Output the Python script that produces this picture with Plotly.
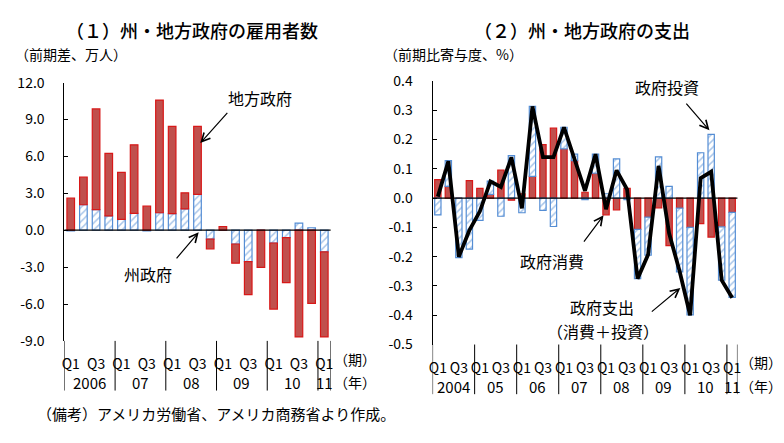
import plotly.graph_objects as go

# ---------------- data ----------------
# (1) State & local government employment, q/q change, 10k persons, 2006Q1-2011Q1
years_l = ["2006", "07", "08", "09", "10", "11"]
year_counts_l = [4, 4, 4, 4, 4, 1]
state_l = [-0.05, 2.07, 1.68, 1.16, 0.88, 1.37, -0.05, 1.42, 1.34, 1.73, 2.92,
           -0.73, 0.0, -1.12, -2.55, 0.0, -1.04, -0.60, 0.58, 0.20, -1.77]
local_l = [2.60, 2.24, 8.18, 5.08, 3.82, 5.57, 1.95, 9.16, 7.10, 1.31, 5.52,
           -0.78, 0.30, -1.56, -2.69, -3.02, -5.37, -3.67, -8.68, -5.95, -6.91]

# (2) State & local government expenditure, contribution to q/q growth (%), 2004Q1-2011Q1
years_r = ["2004", "05", "06", "07", "08", "09", "10", "11"]
year_counts_r = [4, 4, 4, 4, 4, 4, 4, 1]
consumption_r = [0.063, 0.040, 0.000, 0.060, 0.033, 0.013, 0.096, -0.007, 0.015, 0.074,
                 0.183, 0.239, 0.168, 0.128, 0.020, 0.085, -0.057, -0.040, 0.033, -0.107,
                 -0.065, -0.033, -0.162, -0.034, -0.100, -0.087, -0.133, -0.098, -0.049]
investment_r = [-0.057, 0.088, -0.203, -0.174, -0.076, 0.045, -0.062, 0.145, -0.050, 0.239,
                -0.042, -0.097, 0.074, 0.022, -0.005, 0.065, 0.015, 0.134, -0.005, -0.168,
                -0.130, 0.141, 0.040, -0.218, -0.299, 0.155, 0.218, -0.182, -0.290]
total_r = [0.005, 0.126, -0.200, -0.110, -0.045, 0.057, 0.038, 0.139, -0.035, 0.313,
           0.140, 0.140, 0.242, 0.135, 0.025, 0.150, -0.038, 0.095, 0.030, -0.275,
           -0.193, 0.110, -0.120, -0.250, -0.400, 0.068, 0.090, -0.280, -0.340]

quarter_names = ["Q1", "Q2", "Q3", "Q4"]
shown_quarters = ["Q1", "Q3"]

yticks_l = [-9, -6, -3, 0, 3, 6, 9, 12]
yticktext_l = ["-9.0", "-6.0", "-3.0", "0.0", "3.0", "6.0", "9.0", "12.0"]
yticks_r = [-0.5, -0.4, -0.3, -0.2, -0.1, 0.0, 0.1, 0.2, 0.3, 0.4]
yticktext_r = ["-0.5", "-0.4", "-0.3", "-0.2", "-0.1", "0.0", "0.1", "0.2", "0.3", "0.4"]

# ---------------- helpers ----------------
W, H = 784, 443
def px(x): return x / W
def py(y): return 1 - y / H

FONT = "Noto Sans CJK JP"
RED_FILL = "#C0504D"
RED_LINE = "#D81818"
BLUE = "#548DD4"

def quarters(counts):
    return [quarter_names[k] for c in counts for k in range(c)]

q_l = quarters(year_counts_l)
q_r = quarters(year_counts_r)
idx_l = list(range(len(q_l)))
idx_r = list(range(len(q_r)))

fig = go.Figure()

hatch = dict(color="white", line=dict(color=BLUE, width=1.2),
             pattern=dict(shape="/", fgcolor=BLUE, bgcolor="white", size=5, solidity=0.3, fillmode="overlay"))
solid = dict(color=RED_FILL, line=dict(color=RED_LINE, width=1.2))

fig.add_bar(x=idx_l, y=state_l, marker=hatch, xaxis="x", yaxis="y", name="州政府")
fig.add_bar(x=idx_l, y=local_l, marker=solid, xaxis="x", yaxis="y", name="地方政府")
fig.add_bar(x=idx_r, y=consumption_r, marker=solid, xaxis="x2", yaxis="y2", name="政府消費")
fig.add_bar(x=idx_r, y=investment_r, marker=hatch, xaxis="x2", yaxis="y2", name="政府投資")
fig.add_scatter(x=idx_r, y=total_r, mode="lines", line=dict(color="black", width=3.8),
                xaxis="x2", yaxis="y2", name="政府支出")

tickfont = dict(family=FONT, size=14, color="black")
qfont = dict(family="Liberation Sans Narrow, " + FONT, size=14, color="black")

def xaxis(dom, n, qs, anchor):
    tv = [i for i in range(n) if qs[i] in shown_quarters]
    return dict(domain=dom, range=[-0.5, n - 0.5], tickvals=tv, ticktext=[qs[i] for i in tv],
                tickangle=0, showline=False, ticks="", showgrid=False, zeroline=False,
                tickfont=qfont, ticklabelstandoff=13, anchor=anchor)

def yaxis(dom, rng, tv, tt, anchor):
    return dict(domain=dom, range=rng, tickvals=tv, ticktext=tt, showline=True, linecolor="black",
                linewidth=1, ticks="inside", ticklen=4, tickcolor="black", showgrid=False,
                zeroline=False, tickfont=tickfont, ticklabelstandoff=16, anchor=anchor)

top_l, bot_l = 75, 345.5
top_r, bot_r = 73.3, 349.3

fig.update_layout(
    width=W, height=H, margin=dict(l=0, r=0, t=0, b=0),
    paper_bgcolor="white", plot_bgcolor="white", showlegend=False,
    barmode="relative", bargap=0.4,
    font=dict(family=FONT, size=14, color="black"),
    xaxis=xaxis([px(61), px(330)], len(q_l), q_l, "y"),
    yaxis=yaxis([py(bot_l), py(top_l)], [-9, 12], yticks_l, yticktext_l, "x"),
    xaxis2=xaxis([px(433), px(741)], len(q_r), q_r, "y2"),
    yaxis2=yaxis([py(bot_r), py(top_r)], [-0.5, 0.4], yticks_r, yticktext_r, "x2"),
)

shapes = []
annotations = []

# zero lines (category axes crossing at 0)
for xr, yr in (("x", "y"), ("x2", "y2")):
    shapes.append(dict(type="line", xref=xr + " domain", yref=yr, x0=0, x1=1, y0=0, y1=0,
                       line=dict(color="black", width=1.2), layer="above"))

# year group dividers + labels
def groups(xr, years, counts, ybot, ylab):
    start = 0
    bounds = [-0.5]
    for yl, c in zip(years, counts):
        annotations.append(dict(xref=xr, yref="paper", x=start + (c - 1) / 2, y=py(ylab), text=yl,
                                showarrow=False, xanchor="center", yanchor="middle",
                                font=dict(family=FONT, size=15)))
        start += c
        bounds.append(start - 0.5)
    for b in bounds:
        shapes.append(dict(type="line", xref=xr, yref="paper", x0=b, x1=b, y0=py(ybot), y1=py(ybot + 52),
                           line=dict(color="black", width=1)))

groups("x", years_l, year_counts_l, bot_l, 389)
groups("x2", years_r, year_counts_r, bot_r, 393)

def text(x, y, t, size=14, anchor="center", weight="normal"):
    annotations.append(dict(xref="paper", yref="paper", x=px(x), y=py(y), text=t, showarrow=False,
                            xanchor=anchor, yanchor="middle", align="center",
                            font=dict(family=FONT, size=size, weight=weight)))

def arrow(hx, hy, tx, ty):
    annotations.append(dict(xref="paper", yref="paper", x=px(hx), y=py(hy), ax=tx - hx, ay=ty - hy,
                            text="", showarrow=True, arrowhead=5, arrowsize=1.4, arrowwidth=1.2,
                            arrowcolor="black", standoff=0))

# titles
text(190, 20, "（１）州・地方政府の雇用者数", 18, weight=500)
text(584, 20, "（２）州・地方政府の支出", 18, weight=500)
text(9, 45, "（前期差、万人）", 14, "left")
text(382, 45, "（前期比寄与度、%）", 14, "left")
# axis unit labels
text(331, 364, "（期）", 14, "left")
text(331, 389, "（年）", 14, "left")
text(742, 368, "（期）", 14, "left")
text(742, 393, "（年）", 14, "left")
# footer
text(31, 422, "（備考）アメリカ労働省、アメリカ商務省より作成。", 15, "left")

# callouts
text(259, 91, "地方政府", 16)
arrow(198.3, 138.3, 226.7, 106.7)
text(145, 275, "州政府", 16)
arrow(196.7, 231.7, 173.3, 259.3)
text(670, 80, "政府投資", 16)
arrow(712.7, 125, 688.3, 96.7)
text(554, 262, "政府消費", 16)
arrow(605.7, 214, 585, 241.7)
text(604, 310, "政府支出", 16)
text(605, 335, "（消費＋投資）", 16)
arrow(683.3, 290, 653.3, 315)

fig.update_layout(shapes=shapes, annotations=annotations)
fig.write_html("out.html")
